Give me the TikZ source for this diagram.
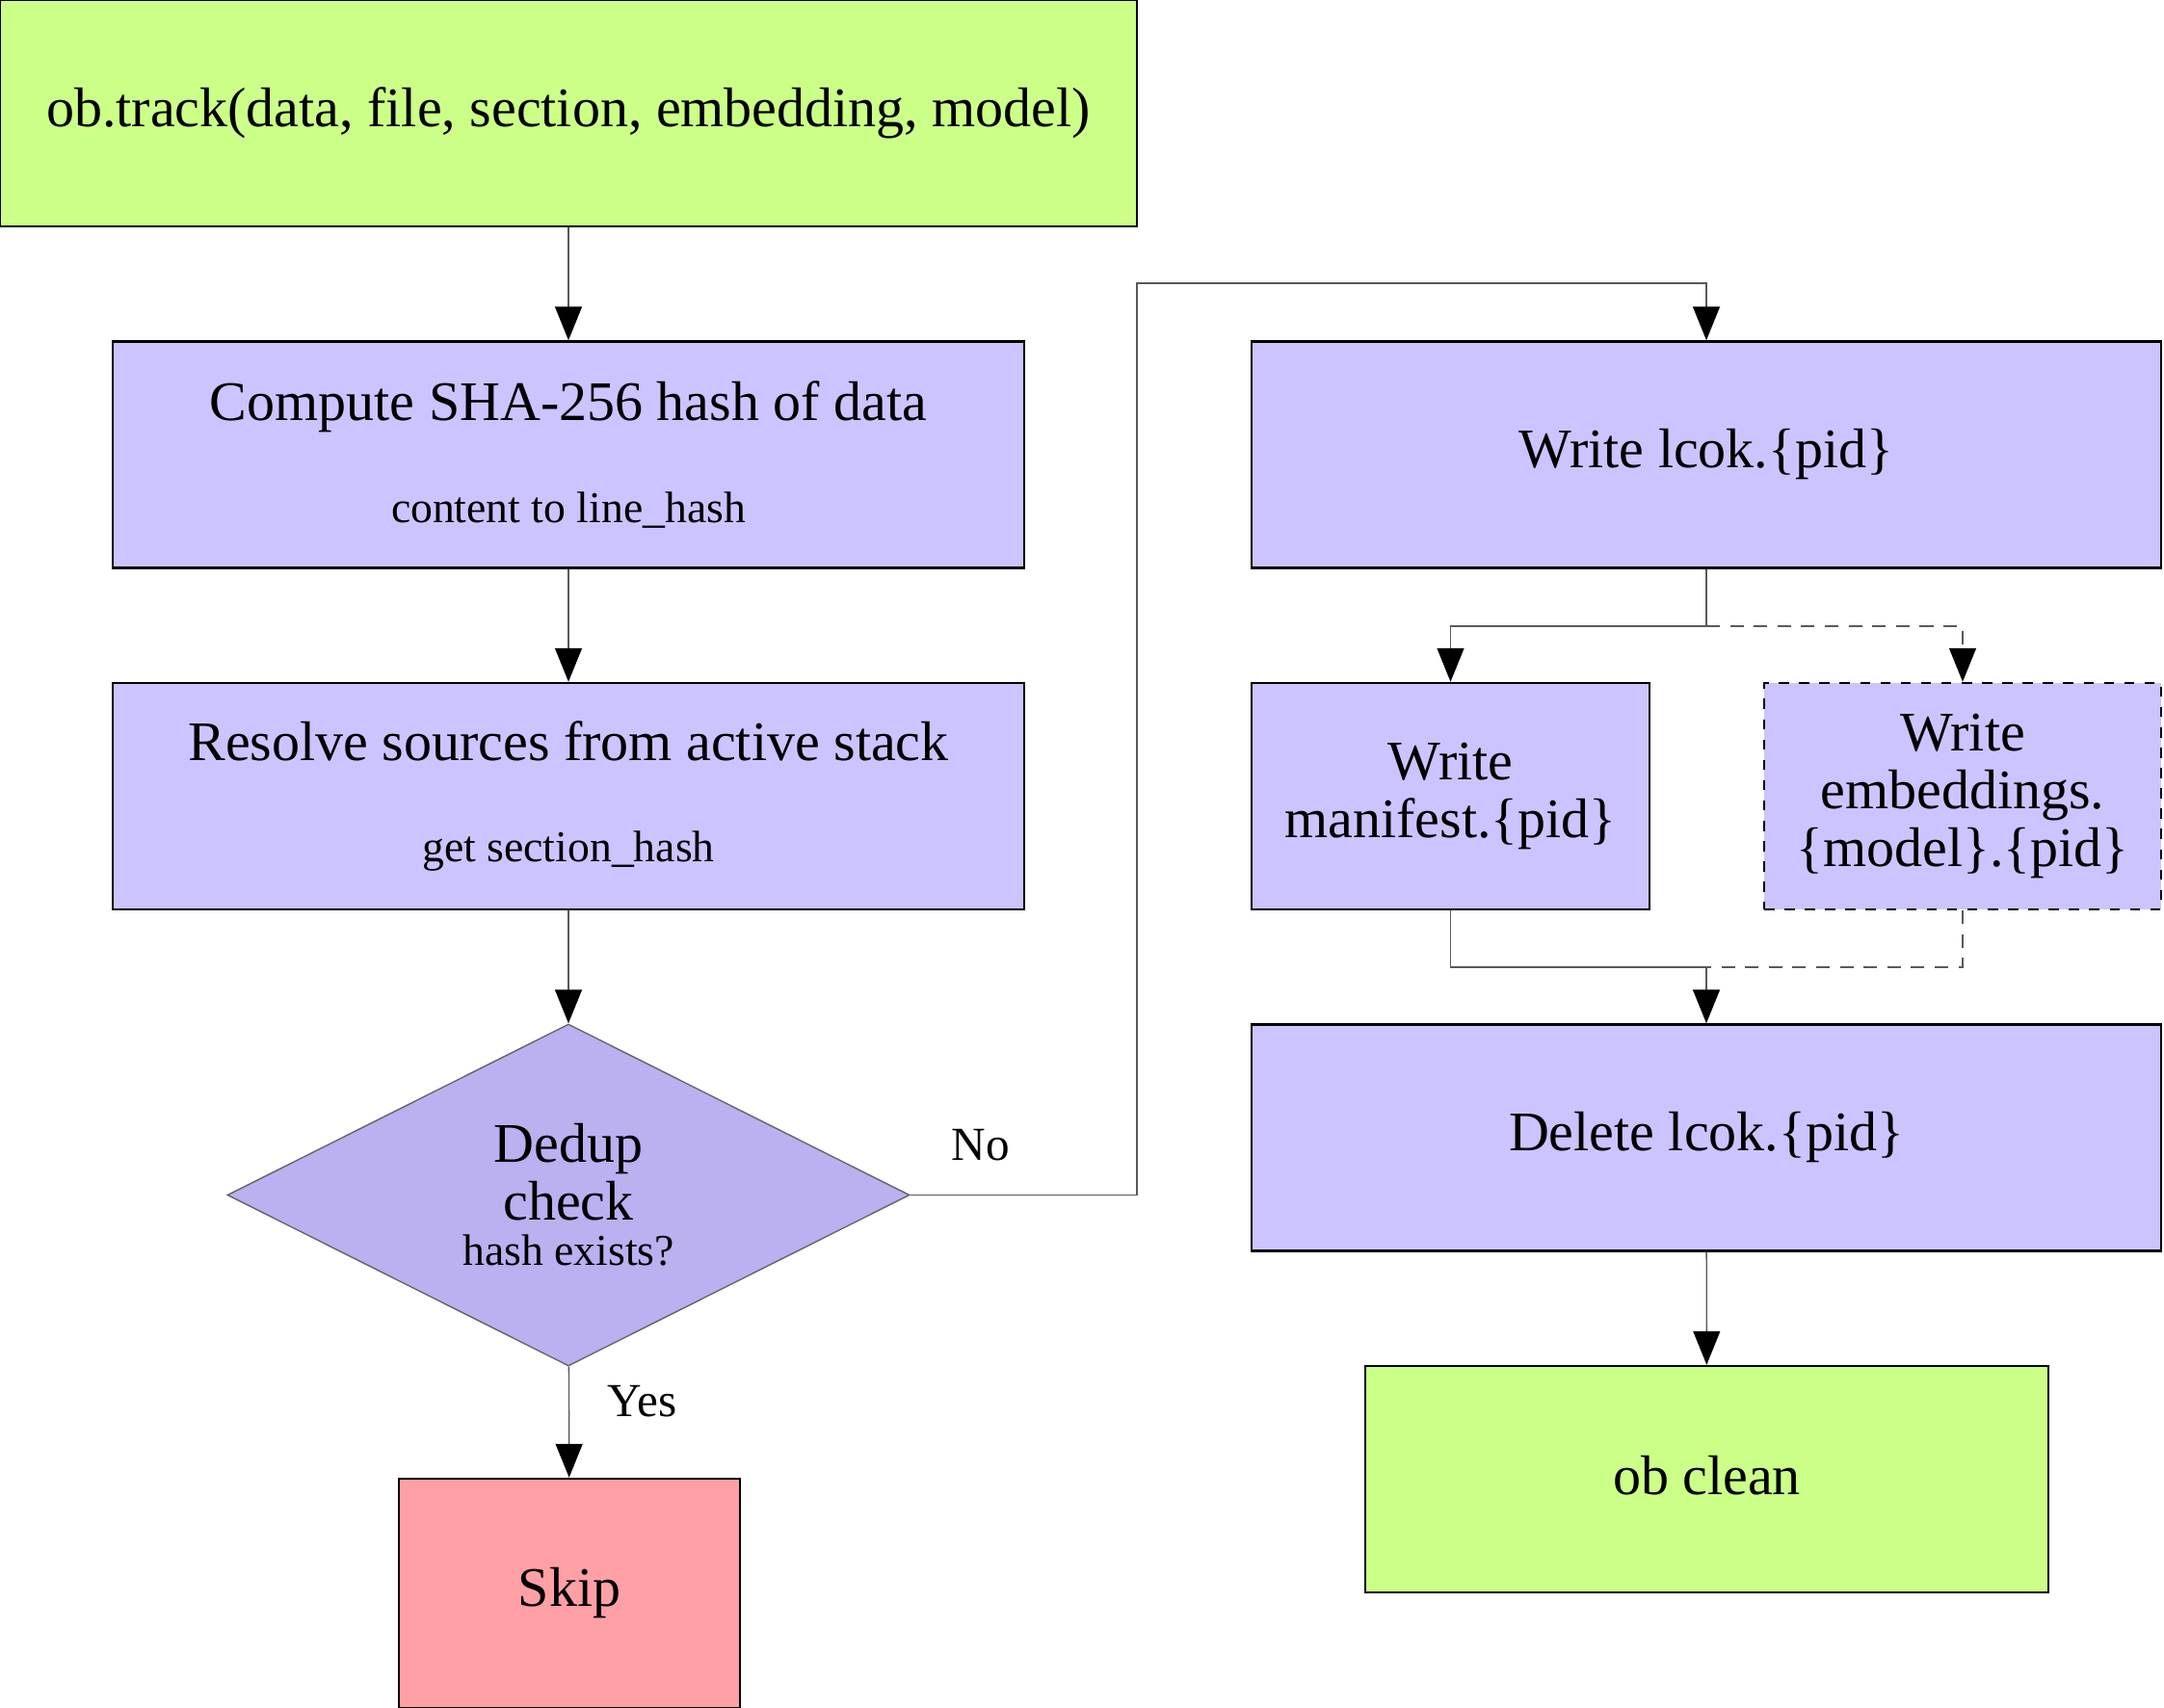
\documentclass[tikz,border=0pt]{standalone}
\usepackage{fontspec}
\setmainfont{Liberation Serif}
\usepackage{xcolor}
\usetikzlibrary{arrows.meta,shapes.geometric}

\definecolor{limefill}{HTML}{CCFF88}
\definecolor{lavfill}{HTML}{CCC4FF}
\definecolor{diafill}{HTML}{BBB0F0}
\definecolor{pinkfill}{HTML}{FFA0A6}
\newcommand{\smallsz}{\fontsize{13}{15}\selectfont}

\begin{document}
\begin{tikzpicture}[
    font=\fontsize{16.5}{17}\selectfont,
    proc/.style={draw, line width=0.7pt, fill=lavfill, align=center, inner sep=0pt, minimum height=2.35cm},
    optproc/.style={proc, dashed},
    term/.style={proc, fill=limefill},
    halt/.style={proc, fill=pinkfill},
    decision/.style={diamond, draw=black!60, line width=0.4pt, fill=diafill, align=center, inner sep=0pt, shape aspect=2, minimum width=7.08cm, minimum height=3.55cm},
    lbl/.style={font=\fontsize{14}{16}\selectfont, inner sep=0pt},
    arr/.style={draw=black!65, line width=0.4pt, -{Triangle[length=3.5mm, width=2.8mm, color=black]}},
    darr/.style={arr, dash pattern=on 4pt off 3pt},
    dline/.style={draw=black!65, line width=0.4pt, dash pattern=on 4pt off 3pt}
]
\useasboundingbox (0,0) rectangle (22.46,-17.73);

\node[term, minimum width=11.80cm] (track) at (5.90,-1.175) {\raisebox{1.5pt}{ob.track(data, file, section, embedding, model)}};
\node[proc, minimum width=9.46cm] (compute) at (5.90,-4.72) {Compute SHA-256 hash of data\\[13pt]{\smallsz content to line\_hash}};
\node[proc, minimum width=9.46cm] (resolve) at (5.90,-8.265) {Resolve sources from active stack\\[13pt]{\smallsz get section\_hash}};
\node[decision] (dedup) at (5.90,-12.405) {Dedup\\check\\[-3.5pt]{\smallsz hash exists?}};
\node[halt, minimum width=3.54cm, minimum height=2.38cm] (skip) at (5.91,-16.54) {Skip};

\node[proc, minimum width=9.44cm] (lockw) at (17.71,-4.72) {Write lcok.\{pid\}};
\node[proc, minimum width=4.13cm] (manifest) at (15.055,-8.265) {Write\\manifest.\{pid\}};
\node[optproc, minimum width=4.12cm] (embed) at (20.37,-8.265) {Write\\embeddings.\\\{model\}.\{pid\}};
\node[proc, minimum width=9.44cm] (unlock) at (17.71,-11.81) {Delete lcok.\{pid\}};
\node[term, minimum width=7.09cm] (clean) at (17.715,-15.355) {\raisebox{2.5pt}{ob clean}};

\coordinate (detour) at (11.80,-2.94);
\coordinate (split) at (17.71,-6.50);
\coordinate (merge) at (17.71,-10.04);

\node[lbl] (nolbl) at (10.18,-11.89) {No};
\node[lbl, anchor=west] (yeslbl) at (6.30,-14.55) {Yes};

\draw[arr] (track) -- (compute);
\draw[arr] (compute) -- (resolve);
\draw[arr] (resolve) -- (dedup);
\draw[arr] (dedup) -- (skip);
\draw[arr] (dedup.east) -| (detour) -| (lockw);
\draw[arr] (lockw.south) |- (split -| manifest) -- (manifest);
\draw[darr] (split) -| (embed);
\draw[arr] (manifest.south) |- (merge) -- (unlock);
\draw[dline] (embed.south) |- (merge);
\draw[arr] (unlock) -- (clean);
\end{tikzpicture}
\end{document}
